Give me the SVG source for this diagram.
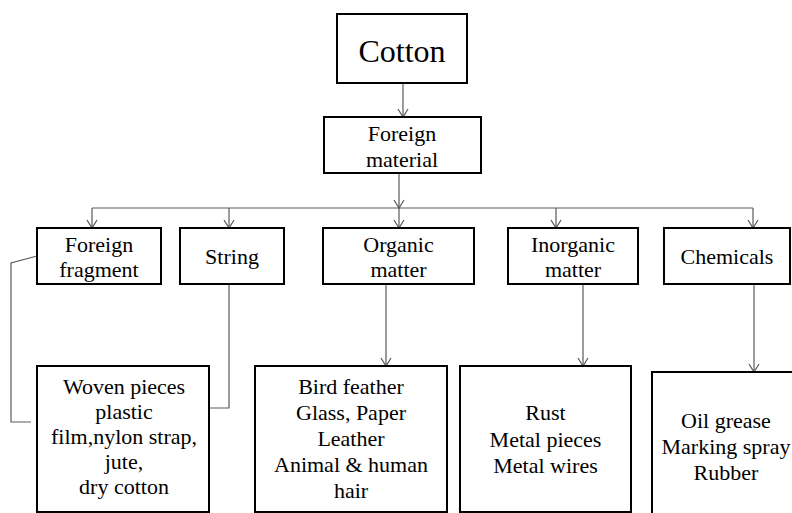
<svg xmlns="http://www.w3.org/2000/svg" width="792" height="513" viewBox="0 0 792 513">
<style>
.box{fill:#fff;stroke:#000;stroke-width:2}
.t{font-family:'Liberation Serif','DejaVu Serif','Noto Serif',serif;font-size:22px;fill:#000;text-anchor:middle}
.big{font-size:32px}
.c{fill:none;stroke:#5a5a5a;stroke-width:1.2}
</style>
<defs>
<marker id="arr" markerUnits="userSpaceOnUse" markerWidth="12" markerHeight="12" refX="9" refY="6" orient="auto">
<path d="M1,1 L9,6 L1,11" fill="none" stroke="#5a5a5a" stroke-width="1.2"/>
</marker>
</defs>
<rect width="792" height="513" fill="#fff"/>
<g id="connectors">
<path class="c" d="M403,83 L403,117" marker-end="url(#arr)"/>
<path class="c" d="M399,173 L399,208" marker-end="url(#arr)"/>
<path class="c" d="M399,208 L399,228" marker-end="url(#arr)"/>
<path class="c" d="M92,208 L753,208"/>
<path class="c" d="M92,208 L92,228" marker-end="url(#arr)"/>
<path class="c" d="M229,208 L229,228" marker-end="url(#arr)"/>
<path class="c" d="M556,208 L556,228" marker-end="url(#arr)"/>
<path class="c" d="M753,208 L753,228" marker-end="url(#arr)"/>
<path class="c" d="M37,256 L11,263 L11,422 L31,422"/>
<path class="c" d="M229,284 L229,408 L209,408"/>
<path class="c" d="M386,284 L386,366" marker-end="url(#arr)"/>
<path class="c" d="M583,284 L583,366" marker-end="url(#arr)"/>
<path class="c" d="M754,284 L754,372" marker-end="url(#arr)"/>
</g>
<g id="cotton">
<rect class="box" x="337" y="14" width="130" height="69"/>
<text class="t big" x="402" y="62" font-family="Liberation Serif, serif">Cotton</text>
</g>
<g id="foreign-material">
<rect class="box" x="324" y="117" width="157" height="56"/>
<text class="t" x="402" y="141">Foreign</text>
<text class="t" x="402" y="167">material</text>
</g>
<g id="foreign-fragment">
<rect class="box" x="37" y="228" width="124" height="56"/>
<text class="t" x="99" y="252">Foreign</text>
<text class="t" x="99" y="277">fragment</text>
</g>
<g id="string">
<rect class="box" x="180" y="228" width="104" height="56"/>
<text class="t" x="232" y="264">String</text>
</g>
<g id="organic">
<rect class="box" x="323" y="228" width="151" height="56"/>
<text class="t" x="398.5" y="252">Organic</text>
<text class="t" x="398.5" y="277">matter</text>
</g>
<g id="inorganic">
<rect class="box" x="508" y="228" width="130" height="56"/>
<text class="t" x="573" y="252">Inorganic</text>
<text class="t" x="573" y="277">matter</text>
</g>
<g id="chemicals">
<rect class="box" x="664" y="228" width="126" height="56"/>
<text class="t" x="727" y="264">Chemicals</text>
</g>
<g id="woven">
<rect class="box" x="37" y="366" width="172" height="146"/>
<text class="t" x="124" y="394">Woven pieces</text>
<text class="t" x="124" y="419">plastic</text>
<text class="t" x="124" y="444">film,nylon strap,</text>
<text class="t" x="124" y="469">jute,</text>
<text class="t" x="124" y="494">dry cotton</text>
</g>
<g id="bird">
<rect class="box" x="255" y="366" width="192" height="146"/>
<text class="t" x="351" y="394">Bird feather</text>
<text class="t" x="351" y="420">Glass, Paper</text>
<text class="t" x="351" y="446">Leather</text>
<text class="t" x="351" y="472">Animal &amp; human</text>
<text class="t" x="351" y="498">hair</text>
</g>
<g id="rust">
<rect class="box" x="460" y="366" width="171" height="146"/>
<text class="t" x="545.5" y="420">Rust</text>
<text class="t" x="545.5" y="447">Metal pieces</text>
<text class="t" x="545.5" y="473">Metal wires</text>
</g>
<g id="oil">
<rect class="box" x="652" y="372" width="160" height="160"/>
<text class="t" x="726" y="428">Oil grease</text>
<text class="t" x="726" y="454">Marking spray</text>
<text class="t" x="726" y="480">Rubber</text>
</g>
</svg>
